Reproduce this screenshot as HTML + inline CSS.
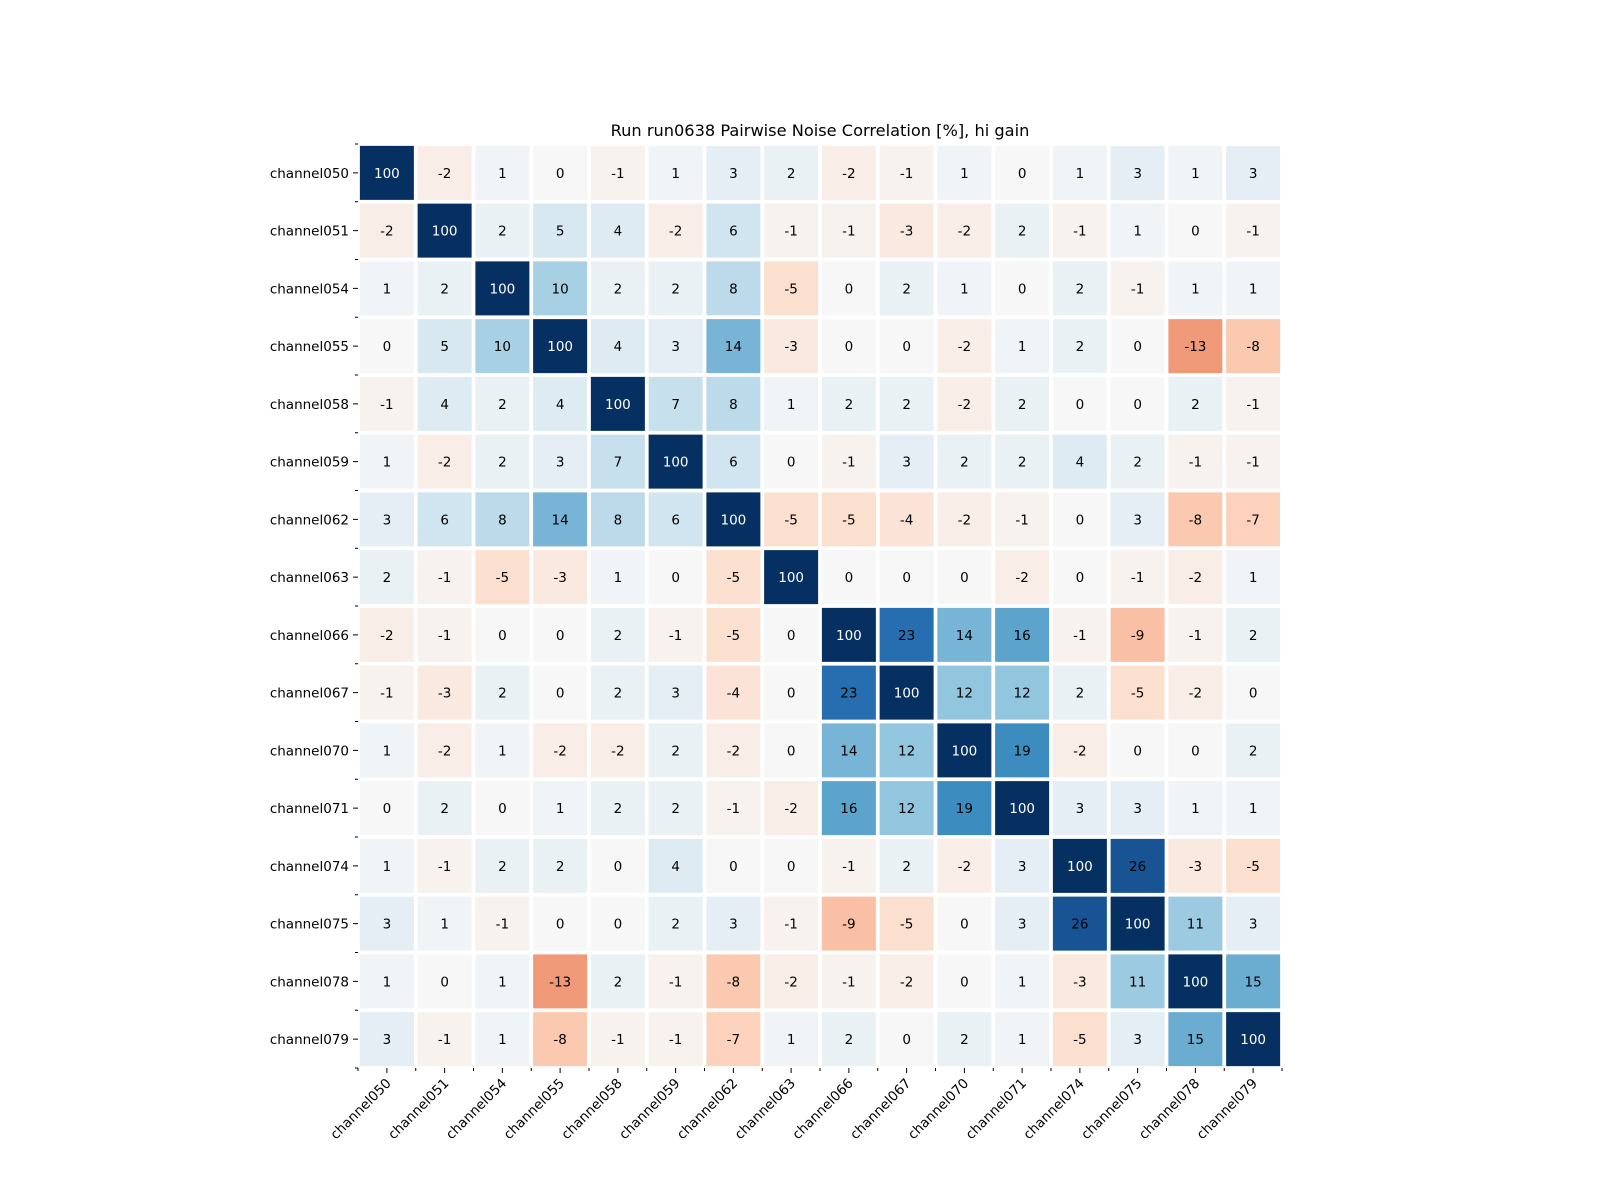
<!DOCTYPE html>
<html><head><meta charset="utf-8"><style>
html,body{margin:0;padding:0;background:#fff;}
svg{display:block;font-family:"DejaVu Sans","Liberation Sans",sans-serif;}
</style></head><body>
<svg id="chart" width="1600" height="1200" viewBox="0 0 1600 1200">
<text x="820" y="136" text-anchor="middle" font-size="16.2">Run run0638 Pairwise Noise Correlation [%], hi gain</text>
<g id="cells"></g><g id="axes"></g>
</svg>
<script>
const channels = ["channel050","channel051","channel054","channel055","channel058","channel059","channel062","channel063","channel066","channel067","channel070","channel071","channel074","channel075","channel078","channel079"];
const row00 = [100,-2,1,0,-1,1,3,2,-2,-1,1,0,1,3,1,3];
const row01 = [-2,100,2,5,4,-2,6,-1,-1,-3,-2,2,-1,1,0,-1];
const row02 = [1,2,100,10,2,2,8,-5,0,2,1,0,2,-1,1,1];
const row03 = [0,5,10,100,4,3,14,-3,0,0,-2,1,2,0,-13,-8];
const row04 = [-1,4,2,4,100,7,8,1,2,2,-2,2,0,0,2,-1];
const row05 = [1,-2,2,3,7,100,6,0,-1,3,2,2,4,2,-1,-1];
const row06 = [3,6,8,14,8,6,100,-5,-5,-4,-2,-1,0,3,-8,-7];
const row07 = [2,-1,-5,-3,1,0,-5,100,0,0,0,-2,0,-1,-2,1];
const row08 = [-2,-1,0,0,2,-1,-5,0,100,23,14,16,-1,-9,-1,2];
const row09 = [-1,-3,2,0,2,3,-4,0,23,100,12,12,2,-5,-2,0];
const row10 = [1,-2,1,-2,-2,2,-2,0,14,12,100,19,-2,0,0,2];
const row11 = [0,2,0,1,2,2,-1,-2,16,12,19,100,3,3,1,1];
const row12 = [1,-1,2,2,0,4,0,0,-1,2,-2,3,100,26,-3,-5];
const row13 = [3,1,-1,0,0,2,3,-1,-9,-5,0,3,26,100,11,3];
const row14 = [1,0,1,-13,2,-1,-8,-2,-1,-2,0,1,-3,11,100,15];
const row15 = [3,-1,1,-8,-1,-1,-7,1,2,0,2,1,-5,3,15,100];
const matrix = [row00,row01,row02,row03,row04,row05,row06,row07,row08,row09,row10,row11,row12,row13,row14,row15];
const vmin = -30, vmax = 30;

const NS = "http://www.w3.org/2000/svg";
const L = 358, T = 144, W = 924, H = 924;
const n = channels.length, pw = W / n, ph = H / n, gap = 3.75;
const xS = i => L + i * pw;
const yS = i => T + i * ph;
const stops = ["#67001f","#b2182b","#d6604d","#f4a582","#fddbc7","#f7f7f7","#d1e5f0","#92c5de","#4393c3","#2166ac","#053061"];
function hex(h){return [1,3,5].map(k=>parseInt(h.substr(k,2),16));}
function color(v){
  let t = (v - vmin) / (vmax - vmin); t = Math.max(0, Math.min(1, t));
  const p = t * 10, i = Math.min(9, Math.floor(p)), f = p - i;
  const a = hex(stops[i]), b = hex(stops[i+1]);
  return "rgb(" + a.map((c,k)=>Math.round(c + (b[k]-c)*f)).join(",") + ")";
}
const cells = document.getElementById("cells");
const axes = document.getElementById("axes");
function mk(tag, attrs, parent){const e=document.createElementNS(NS,tag);for(const k in attrs)e.setAttribute(k,attrs[k]);parent.appendChild(e);return e;}
matrix.forEach((row, r) => row.forEach((v, c) => {
  const rect = mk("rect", {x: xS(c)+gap/2, y: yS(r)+gap/2, width: pw-gap, height: ph-gap, fill: color(v)}, cells);
  
  
  const t = mk("text", {x: xS(c)+pw/2, y: yS(r)+ph/2+5, "text-anchor":"middle", "font-size":"13.5", fill: v >= 50 ? "#fff" : "#000"}, cells);
  t.textContent = v;
  
  
}));
for (let i = 0; i <= n; i++) {
  mk("line", {x1: L-3, x2: L, y1: yS(i), y2: yS(i), stroke:"#000", "stroke-width":1}, axes);
  mk("line", {x1: xS(i), x2: xS(i), y1: T+H, y2: T+H+3, stroke:"#000", "stroke-width":1}, axes);
}
channels.forEach((ch, i) => {
  const cy = yS(i) + ph/2, cx = xS(i) + pw/2;
  mk("line", {x1: L-5, x2: L, y1: cy, y2: cy, stroke:"#000", "stroke-width":1}, axes);
  mk("line", {x1: cx, x2: cx, y1: T+H, y2: T+H+5, stroke:"#000", "stroke-width":1}, axes);
  const yl = mk("text", {x: L-9, y: cy+5, "text-anchor":"end", "font-size":"13.5"}, axes);
  yl.textContent = ch;
  
  
  const xl = mk("text", {x: cx+5, y: T+H+16, "text-anchor":"end", "font-size":"13.5", transform: "rotate(-45 " + (cx+5) + " " + (T+H+16) + ")"}, axes);
  xl.textContent = ch;
  
  
});
</script>
</body></html>
